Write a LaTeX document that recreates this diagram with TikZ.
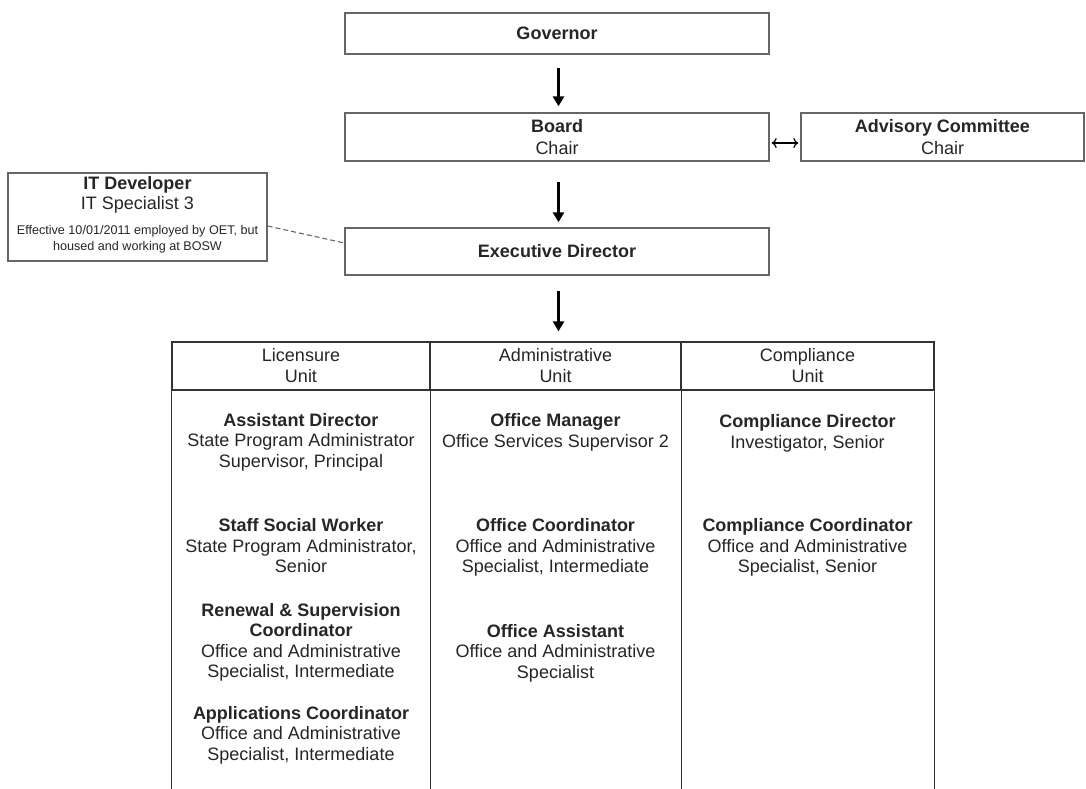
\documentclass[tikz,border=0pt]{standalone}
\usepackage{fontspec}
\setmainfont{Liberation Sans}
\usetikzlibrary{arrows.meta,calc}
\tikzset{
  box/.style={draw=black!60, line width=1.4, fill=white, inner sep=0, align=center,
    minimum width=424, font=\fontsize{18}{22}\selectfont, text=black!85},
  arr/.style={line width=3, -{Triangle[length=10,width=11]}},
  dbl/.style={line width=1.2, {To[length=5,width=10]}-{To[length=5,width=10]}},
  txt/.style={inner sep=0, align=center, font=\fontsize{18}{20.5}\selectfont, text=black!85},
  small/.style={inner sep=0, align=center, font=\fontsize{12.6}{15.5}\selectfont, text=black!85},
  hdr/.style={draw=black!80, line width=1.3, inner sep=0, align=center,
    minimum height=48, font=\fontsize{18}{21}\selectfont, text=black!85},
  col/.style={draw=black!80, line width=1.3},
  link/.style={draw=black!60, line width=1.1, dash pattern=on 5pt off 3pt}
}
\begin{document}
\begin{tikzpicture}[x=1pt,y=-1pt]
\useasboundingbox (0,0) rectangle (1086,788);
\clip (0,0) rectangle (1086,788);
\fill[white] (0,0) rectangle (1086,788);

% top boxes
\node[box, minimum height=41] (gov) at (557,33.5) {\textbf{Governor}};
\node[box, minimum height=48] (board) at (557,137) {\textbf{Board}\\Chair};
\node[box, minimum width=283, minimum height=48] (adv) at (942.5,137) {\textbf{Advisory Committee}\\Chair};
\node[box, minimum height=47] (exec) at (557,251.5) {\textbf{Executive Director}};

% IT developer box
\node[box, minimum width=259, minimum height=88] (it) at (137.5,217) {};
\node[txt] (itT) at (137.5,195) {\textbf{IT Developer}\\IT Specialist 3};
\node[small] (itS) at (137.5,239) {Effective 10/01/2011 employed by OET, but\\housed and working at BOSW};

% table headers
\node[hdr, minimum width=258] (lic) at (301,366) {Licensure\\Unit};
\node[hdr, minimum width=251] (adm) at (555.5,366) {Administrative\\Unit};
\node[hdr, minimum width=253] (cmp) at (807.5,366) {Compliance\\Unit};
\draw[col] (lic.south west) -- ++(0,410);
\draw[col] (lic.south east) -- ++(0,410);
\draw[col] (adm.south east) -- ++(0,410);
\draw[col] (cmp.south east) -- ++(0,410);

% connectors
\draw[arr] ($(gov.south)+(1.5,13)$) -- ($(board.north)+(1.5,-6)$);
\draw[arr] ($(board.south)+(1.5,20)$) -- ($(exec.north)+(1.5,-5)$);
\draw[arr] ($(exec.south)+(1.5,15)$) coordinate (e1) -- ($(e1 |- adm.north)+(0,-10)$);
\draw[dbl] ($(board.east)+(2,6)$) -- ($(adv.west)+(-2,6)$);
\draw[link] ($(it.east)+(0,9)$) -- ($(exec.west)+(0,-8.5)$);

% Licensure column
\node[txt] (ad) at (301,442) {\textbf{Assistant Director}\\State Program Administrator\\Supervisor, Principal};
\node[txt] (ssw) at (301,546) {\textbf{Staff Social Worker}\\State Program Administrator,\\Senior};
\node[txt] (rsc) at (301,642.5) {\textbf{Renewal \& Supervision}\\\textbf{Coordinator}\\Office and Administrative\\Specialist, Intermediate};
\node[txt] (apc) at (301,735) {\textbf{Applications Coordinator}\\Office and Administrative\\Specialist, Intermediate};

% Administrative column
\node[txt] (om) at (555.5,432.5) {\textbf{Office Manager}\\Office Services Supervisor 2};
\node[txt] (oc) at (555.5,547.5) {\textbf{Office Coordinator}\\Office and Administrative\\Specialist, Intermediate};
\node[txt] (oa) at (555.5,653) {\textbf{Office Assistant}\\Office and Administrative\\Specialist};

% Compliance column
\node[txt] (cd) at (807.5,433.5) {\textbf{Compliance Director}\\Investigator, Senior};
\node[txt] (cc) at (807.5,547.5) {\textbf{Compliance Coordinator}\\Office and Administrative\\Specialist, Senior};
\end{tikzpicture}
\end{document}
